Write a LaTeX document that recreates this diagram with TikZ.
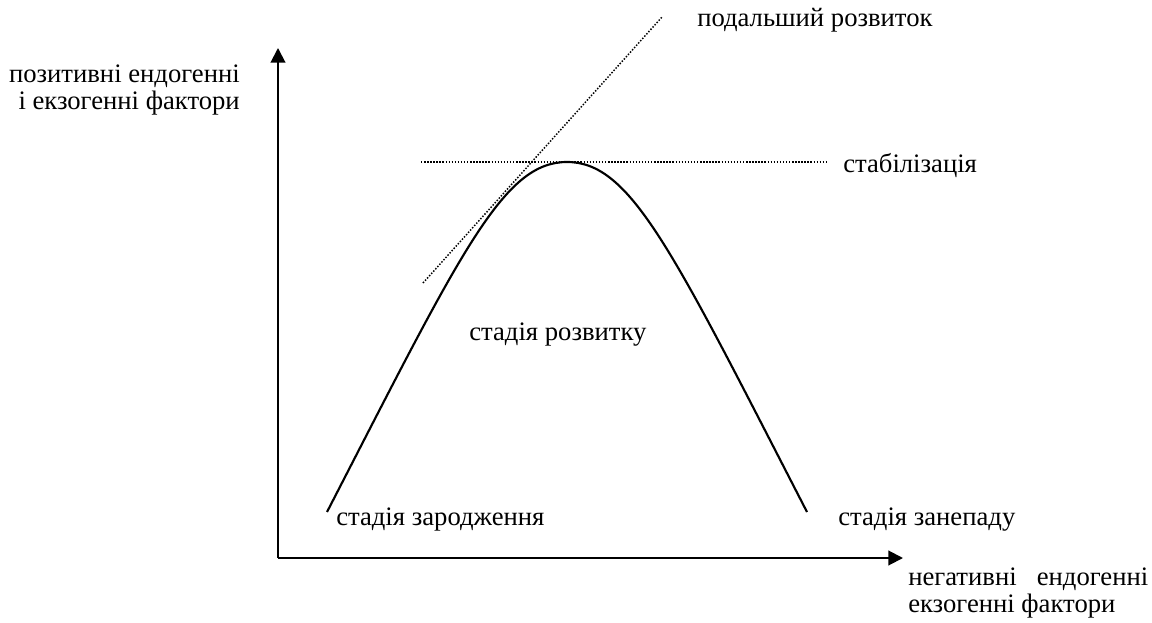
\documentclass[tikz,border=0pt]{standalone}
\usepackage{fontspec}
\setmainfont{Liberation Serif}
\usetikzlibrary{arrows.meta}
\begin{document}
\begin{tikzpicture}[x=0.75pt,y=-0.75pt,
  axis/.style={line width=1.5pt,-{Triangle[length=11pt,width=11pt]}},
  curveline/.style={line width=1.6pt},
  dotline/.style={line width=1.1pt,dash pattern=on 1.1pt off 1.2pt},
  lbl/.style={inner sep=0pt,anchor=base west,font=\fontsize{20}{24}\selectfont}]
\useasboundingbox (0,0) rectangle (1152,623);
% axes
\coordinate (O) at (278,558);
\coordinate (xtip) at (903,558);
\coordinate (ytip) at (278,48);
\draw[axis] (O) -- (ytip);
\draw[axis] (O) -- (xtip);
% curve
\coordinate (cstart) at (327,512);
\coordinate (cpeak) at (567,162);
\coordinate (cend) at (807,512);
\draw[curveline] (cstart) .. controls (462,250) and (503,162) .. (cpeak)
  .. controls (631,162) and (672,250) .. (cend);
% dotted lines
\coordinate (ta) at (423,283);
\coordinate (tb) at (662,17);
\coordinate (ha) at (421,162);
\coordinate (hb) at (828,162);
\draw[dotline] (ta) -- (tb);
\draw[dotline] (ha) -- (hb);
% labels
\node[lbl] (further) at (697,27) {подальший розвиток};
\node[lbl] (stab) at (843,173) {стабілізація};
\node[lbl] (dev) at (469,340) {стадія розвитку};
\node[lbl] (birth) at (336,525) {стадія зародження};
\node[lbl] (decl) at (838,525) {стадія занепаду};
\node[lbl,anchor=base east] (ylab1) at (240,83) {позитивні ендогенні};
\node[lbl,anchor=base east] (ylab2) at (240,110) {і екзогенні фактори};
\node[lbl] (xlab1) at (908,585) {\hbox to 180pt{негативні\hfill ендогенні}};
\node[lbl] (xlab2) at (908,612) {екзогенні фактори};
\end{tikzpicture}
\end{document}
